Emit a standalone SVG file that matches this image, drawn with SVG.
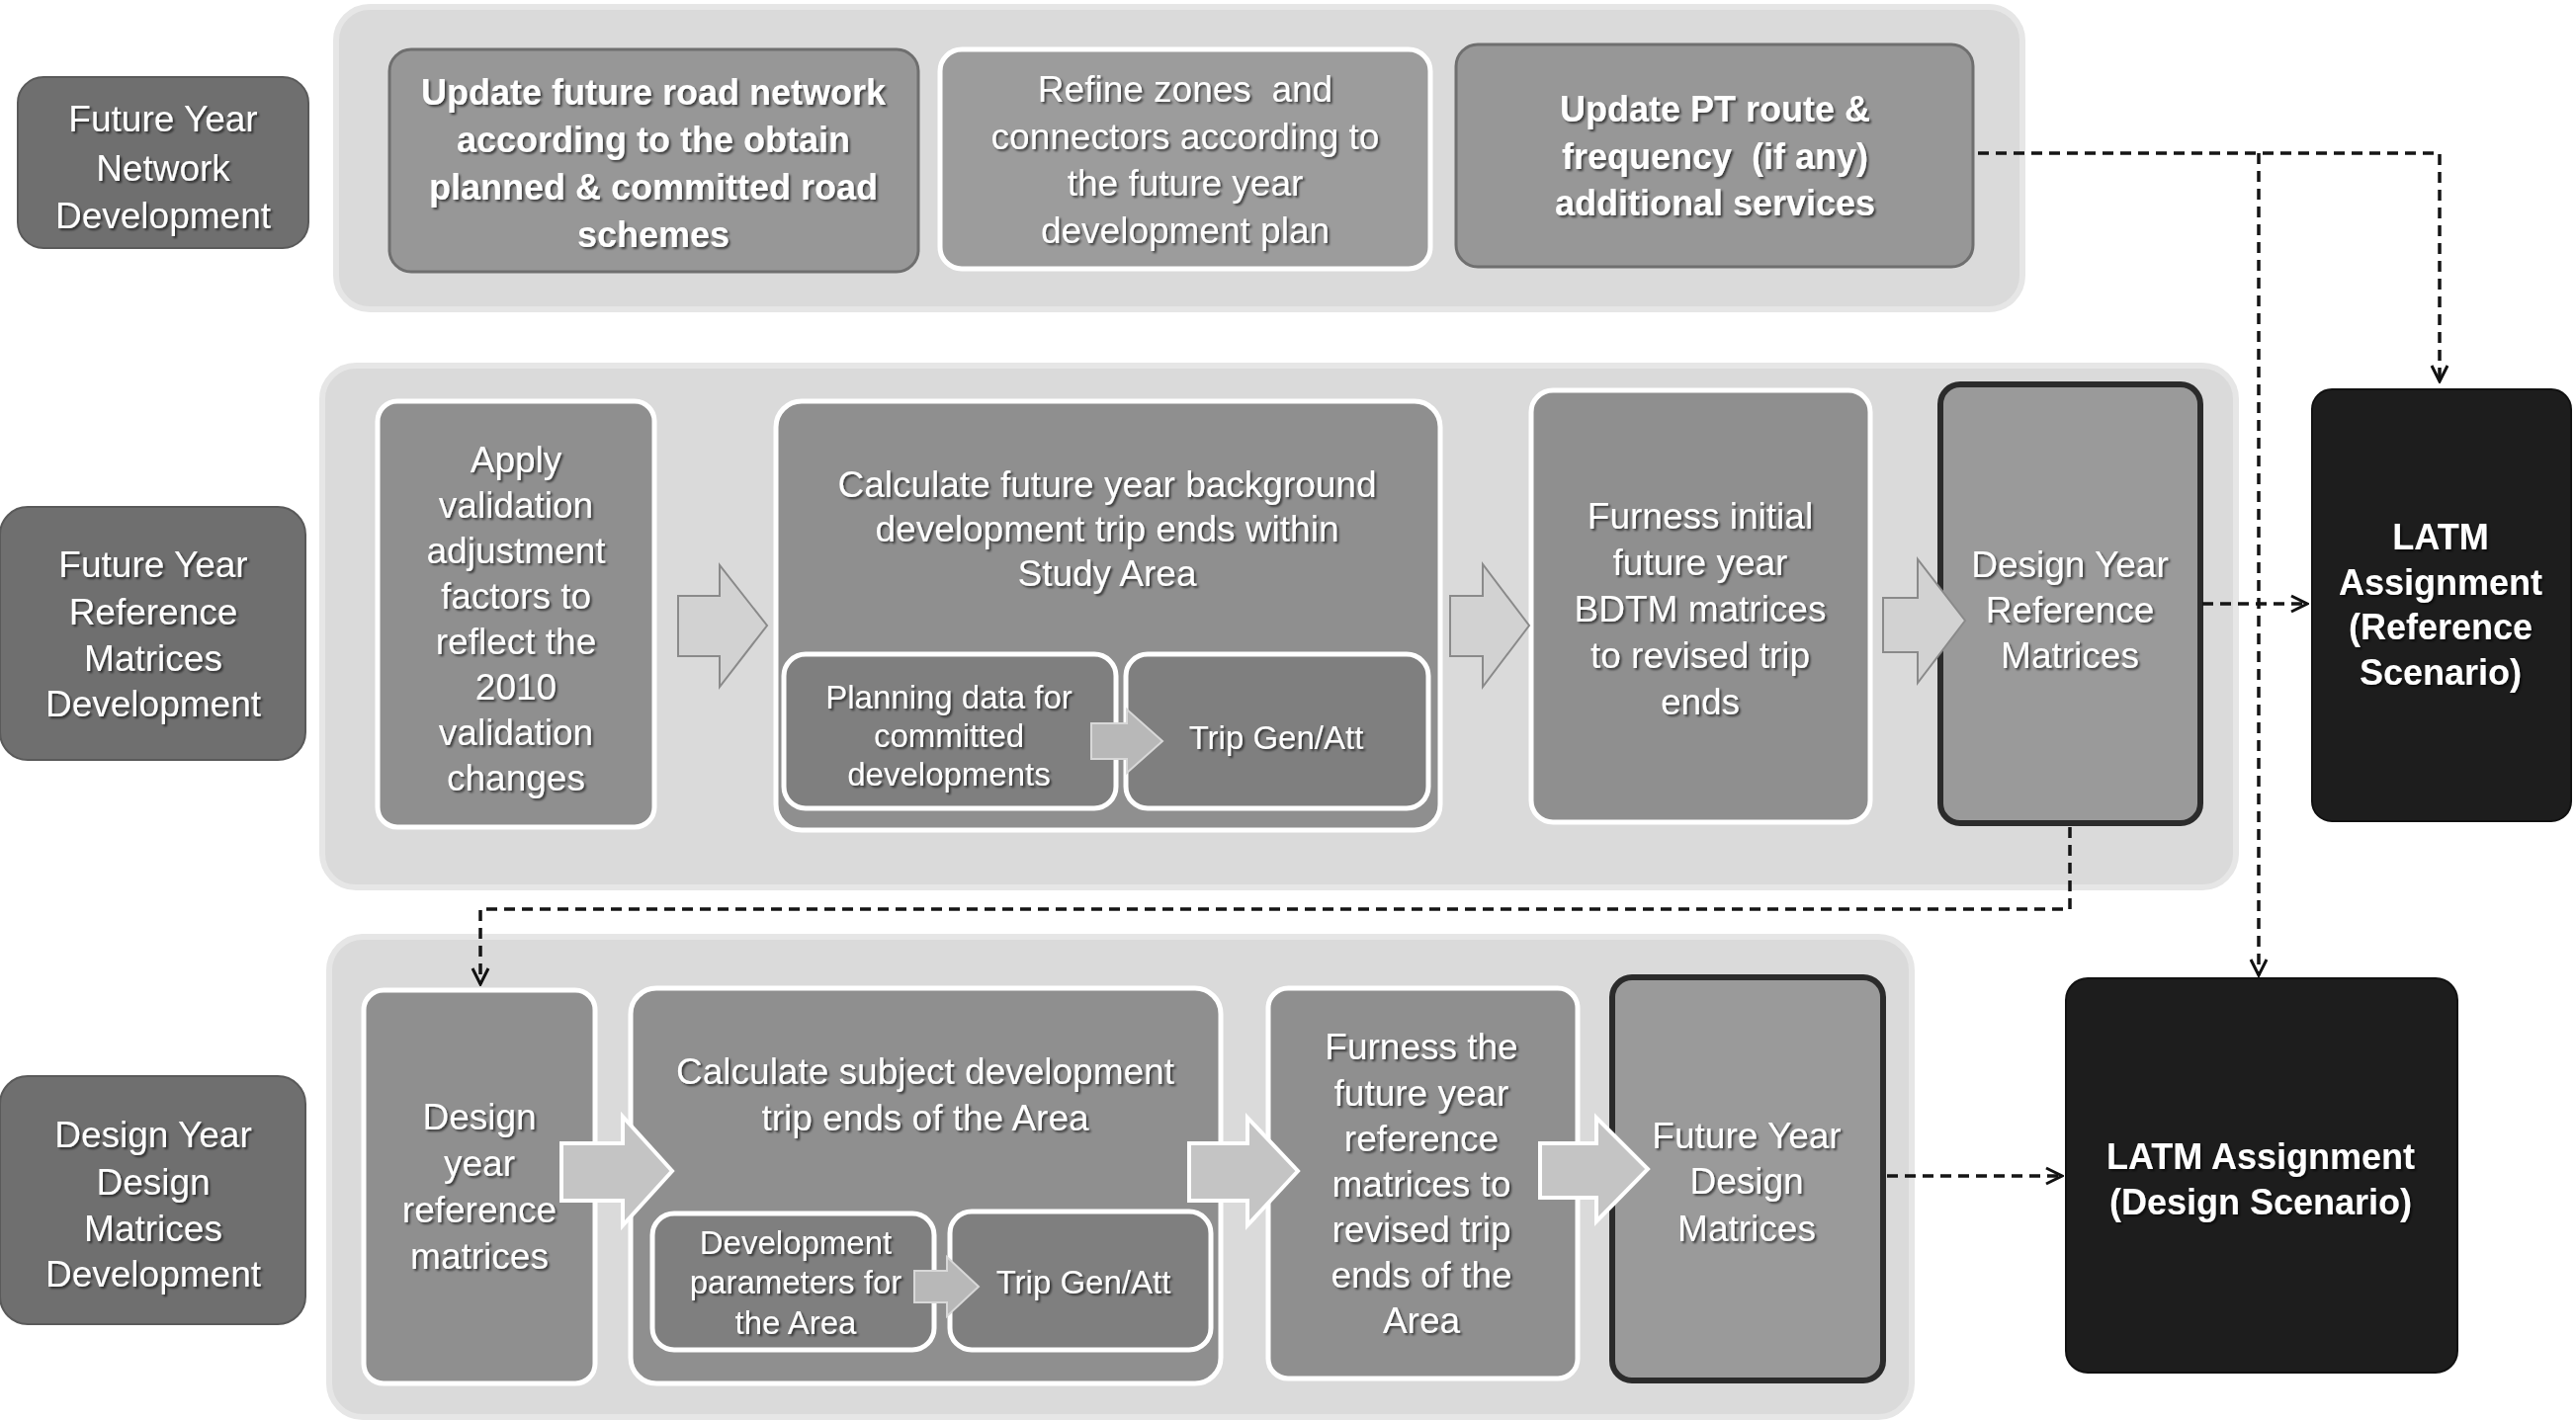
<svg xmlns="http://www.w3.org/2000/svg" width="2606" height="1438" viewBox="0 0 2606 1438">
<defs>
<filter id="ts" x="-10%" y="-30%" width="120%" height="160%">
<feDropShadow dx="2" dy="2" stdDeviation="1.2" flood-color="#000" flood-opacity="0.6"/>
</filter>
<marker id="ah" viewBox="0 0 20 20" refX="18" refY="10" markerWidth="20" markerHeight="20" markerUnits="userSpaceOnUse" orient="auto">
<path d="M2 2 L18 10 L2 18" fill="none" stroke="#111" stroke-width="3"/>
</marker>
<style>
.panel{fill:#dadada;stroke:#e6e6e6;stroke-width:6}
.lbl{fill:#6f6f6f;stroke:#5a5a5a;stroke-width:2}
.box{fill:#8f8f8f;stroke:#ffffff;stroke-width:5}
.box1{fill:#979797;stroke:#6f6f6f;stroke-width:3}
.box2{fill:#9c9c9c;stroke:#ffffff;stroke-width:5}
.inner{fill:#7f7f7f;stroke:#ffffff;stroke-width:5}
.hl{fill:#9a9a9a;stroke:#2b2b2b;stroke-width:6}
.latm{fill:#1d1d1d;stroke:#111;stroke-width:2}
.arr2{fill:#d2d2d2;stroke:#8a8a8a;stroke-width:2}
.arr3{fill:#c4c4c4;stroke:#ffffff;stroke-width:4}
.arrs{fill:#b8b8b8;stroke:#d8d8d8;stroke-width:2}
.conn{fill:none;stroke:#151515;stroke-width:3.5;stroke-dasharray:11 7}
text{font-family:"Liberation Sans",Arial,sans-serif;fill:#ffffff;text-anchor:middle;filter:url(#ts)}
.t{font-size:37px}
.tb{font-size:36px;font-weight:bold}
.ts{font-size:33px}
</style>
</defs>

<g id="panels">
<rect id="panel-row1" class="panel" x="340" y="7" width="1706" height="306" rx="34"/>
<rect id="panel-row2" class="panel" x="326" y="370" width="1936" height="528" rx="34"/>
<rect id="panel-row3" class="panel" x="333" y="948" width="1601" height="486" rx="34"/>
</g>

<g id="label-network">
<rect class="lbl" x="18" y="78" width="294" height="173" rx="26"/>
<text class="t" x="165" y="133">Future Year</text>
<text class="t" x="165" y="183">Network</text>
<text class="t" x="165" y="231">Development</text>
</g>

<g id="node-update-road">
<rect class="box1" x="394" y="50" width="535" height="225" rx="22"/>
<text class="tb" x="661" y="106">Update future road network</text>
<text class="tb" x="661" y="154">according to the obtain</text>
<text class="tb" x="661" y="202">planned &amp; committed road</text>
<text class="tb" x="661" y="250">schemes</text>
</g>

<g id="node-refine-zones">
<rect class="box2" x="951" y="50" width="496" height="222" rx="22"/>
<text class="t" x="1199" y="103" style="white-space:pre">Refine zones  and</text>
<text class="t" x="1199" y="151">connectors according to</text>
<text class="t" x="1199" y="198">the future year</text>
<text class="t" x="1199" y="246">development plan</text>
</g>

<g id="node-update-pt">
<rect class="box1" x="1473" y="45" width="523" height="225" rx="22"/>
<text class="tb" x="1735" y="123">Update PT route &amp;</text>
<text class="tb" x="1735" y="171" style="white-space:pre">frequency  (if any)</text>
<text class="tb" x="1735" y="218">additional services</text>
</g>

<g id="label-reference">
<rect class="lbl" x="0" y="513" width="309" height="256" rx="28"/>
<text class="t" x="155" y="584">Future Year</text>
<text class="t" x="155" y="632">Reference</text>
<text class="t" x="155" y="679">Matrices</text>
<text class="t" x="155" y="725">Development</text>
</g>

<g id="node-apply">
<rect class="box" x="382" y="406" width="280" height="431" rx="20"/>
<text class="t" x="522" y="478">Apply</text>
<text class="t" x="522" y="524">validation</text>
<text class="t" x="522" y="570">adjustment</text>
<text class="t" x="522" y="616">factors to</text>
<text class="t" x="522" y="662">reflect the</text>
<text class="t" x="522" y="708">2010</text>
<text class="t" x="522" y="754">validation</text>
<text class="t" x="522" y="800">changes</text>
</g>

<g id="node-calc-background">
<rect class="box" x="785" y="406" width="672" height="434" rx="26"/>
<text class="t" x="1120" y="503">Calculate future year background</text>
<text class="t" x="1120" y="548">development trip ends within</text>
<text class="t" x="1120" y="593">Study Area</text>
</g>

<g id="node-planning-data">
<rect class="inner" x="793" y="662" width="336" height="156" rx="22"/>
<text class="ts" x="960" y="717">Planning data for</text>
<text class="ts" x="960" y="756">committed</text>
<text class="ts" x="960" y="795">developments</text>
</g>

<g id="node-tripgen1">
<rect class="inner" x="1139" y="662" width="306" height="156" rx="22"/>
<text class="ts" x="1291" y="758">Trip Gen/Att</text>
</g>

<g id="node-furness-initial">
<rect class="box" x="1549" y="395" width="343" height="437" rx="22"/>
<text class="t" x="1720" y="535">Furness initial</text>
<text class="t" x="1720" y="582">future year</text>
<text class="t" x="1720" y="629">BDTM matrices</text>
<text class="t" x="1720" y="676">to revised trip</text>
<text class="t" x="1720" y="723">ends</text>
</g>

<g id="node-dyrm">
<rect class="hl" x="1963" y="389" width="263" height="444" rx="20"/>
<text class="t" x="2094" y="584">Design Year</text>
<text class="t" x="2094" y="630">Reference</text>
<text class="t" x="2094" y="676">Matrices</text>
</g>

<g id="node-latm-ref">
<rect class="latm" x="2339" y="394" width="262" height="437" rx="20"/>
<text class="tb" x="2469" y="556">LATM</text>
<text class="tb" x="2469" y="602">Assignment</text>
<text class="tb" x="2469" y="647">(Reference</text>
<text class="tb" x="2469" y="693">Scenario)</text>
</g>

<g id="label-design">
<rect class="lbl" x="0" y="1089" width="309" height="251" rx="28"/>
<text class="t" x="155" y="1161">Design Year</text>
<text class="t" x="155" y="1209">Design</text>
<text class="t" x="155" y="1256">Matrices</text>
<text class="t" x="155" y="1302">Development</text>
</g>

<g id="node-design-ref">
<rect class="box" x="368" y="1002" width="234" height="398" rx="20"/>
<text class="t" x="485" y="1143">Design</text>
<text class="t" x="485" y="1190">year</text>
<text class="t" x="485" y="1237">reference</text>
<text class="t" x="485" y="1284">matrices</text>
</g>

<g id="node-calc-subject">
<rect class="box" x="638" y="1000" width="597" height="400" rx="26"/>
<text class="t" x="936" y="1097">Calculate subject development</text>
<text class="t" x="936" y="1144">trip ends of the Area</text>
</g>

<g id="node-dev-params">
<rect class="inner" x="660" y="1228" width="285" height="138" rx="22"/>
<text class="ts" x="805" y="1269">Development</text>
<text class="ts" x="805" y="1309">parameters for</text>
<text class="ts" x="805" y="1350">the Area</text>
</g>

<g id="node-tripgen2">
<rect class="inner" x="961" y="1226" width="264" height="140" rx="22"/>
<text class="ts" x="1096" y="1309">Trip Gen/Att</text>
</g>

<g id="node-furness-the">
<rect class="box" x="1283" y="1000" width="313" height="395" rx="20"/>
<text class="t" x="1438" y="1072">Furness the</text>
<text class="t" x="1438" y="1119">future year</text>
<text class="t" x="1438" y="1165">reference</text>
<text class="t" x="1438" y="1211">matrices to</text>
<text class="t" x="1438" y="1257">revised trip</text>
<text class="t" x="1438" y="1303">ends of the</text>
<text class="t" x="1438" y="1349">Area</text>
</g>

<g id="node-fydm">
<rect class="hl" x="1631" y="989" width="274" height="408" rx="20"/>
<text class="t" x="1767" y="1162">Future Year</text>
<text class="t" x="1767" y="1208">Design</text>
<text class="t" x="1767" y="1256">Matrices</text>
</g>

<g id="node-latm-design">
<rect class="latm" x="2090" y="990" width="396" height="399" rx="22"/>
<text class="tb" x="2287" y="1183">LATM Assignment</text>
<text class="tb" x="2287" y="1229">(Design Scenario)</text>
</g>

<g id="block-arrows">
<path class="arr2" d="M686 603 H728 V572 L776 633 L728 695 V664 H686 Z"/>
<path class="arr2" d="M1467 603 H1500 V571 L1547 633 L1500 695 V664 H1467 Z"/>
<path class="arr2" d="M1905 605 H1940 V566 L1988 628 L1940 691 V660 H1905 Z"/>
<path class="arrs" d="M1104 732 H1140 V718 L1176 750 L1140 782 V768 H1104 Z"/>
<path class="arr3" d="M568 1157 H630 V1130 L680 1185 L630 1240 V1215 H568 Z"/>
<path class="arr3" d="M1203 1157 H1262 V1131 L1313 1185 L1262 1240 V1215 H1203 Z"/>
<path class="arr3" d="M1558 1157 H1615 V1131 L1667 1183 L1615 1236 V1212 H1558 Z"/>
<path class="arrs" d="M925 1286 H958 V1272 L990 1302 L958 1332 V1318 H925 Z"/>
</g>

<g id="connectors">
<path class="conn" d="M2001 155 H2468 V386" marker-end="url(#ah)"/>
<path class="conn" d="M2285 155 V987" marker-end="url(#ah)"/>
<path class="conn" d="M2228 611 H2334" marker-end="url(#ah)"/>
<path class="conn" d="M2094 837 V920 H486 V996" marker-end="url(#ah)"/>
<path class="conn" d="M1909 1190 H2086" marker-end="url(#ah)"/>
</g>
</svg>
